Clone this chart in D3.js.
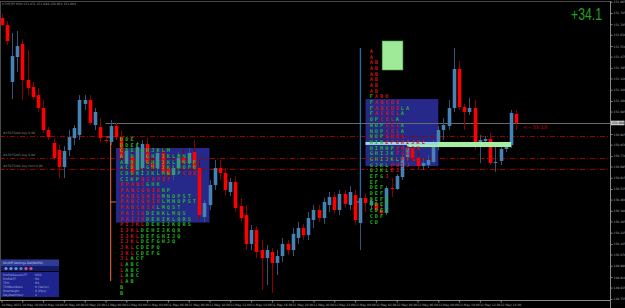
<!DOCTYPE html>
<html>
<head>
<meta charset="utf-8">
<script src="https://cdn.jsdelivr.net/npm/d3@7"></script>
<style>
html, body { margin: 0; padding: 0; background: #000; }
svg { display: block; }
</style>
</head>
<body>
<div id="chart"></div>
<script>
// CHFJPY M30 candles, 10-12 May 2023
var opens = [151.749,151.699,151.295,151.472,151.565,151.309,151.259,151.202,151.110,150.954,
150.862,150.812,150.691,150.812,150.897,150.918,151.139,151.167,150.989,150.975,
150.883,150.869,150.982,150.904,150.713,150.762,150.670,150.684,150.855,150.720,
150.684,150.791,150.677,150.634,150.684,150.755,150.720,150.798,150.684,150.336,
150.421,150.563,150.684,150.649,150.514,150.585,150.414,150.350,150.145,150.244,
150.102,150.045,150.088,150.010,150.059,150.145,150.102,150.187,150.258,150.208,
150.315,150.386,150.329,150.421,150.478,150.386,150.500,150.421,150.492,150.294,
150.471,150.421,150.436,150.386,150.365,150.542,150.535,150.620,150.762,150.826,
150.755,150.698,150.705,150.727,150.847,150.954,150.982,151.110,151.387,151.117,
151.082,151.110,150.862,150.876,150.890,150.720,150.734,150.819,150.847,151.068];
var highs = [151.778,151.728,151.643,151.657,151.600,151.522,151.295,151.252,151.167,150.975,
150.897,150.847,150.840,150.954,150.989,151.202,151.202,151.202,151.110,151.039,
150.904,151.025,151.011,150.954,150.826,150.798,150.869,150.883,150.897,150.755,
150.826,150.826,150.705,150.705,150.798,150.812,150.826,150.883,150.741,150.457,
150.599,150.741,150.741,150.684,150.613,150.627,150.471,150.421,150.279,150.272,
150.173,150.137,150.116,150.102,150.187,150.173,150.258,150.301,150.287,150.372,
150.421,150.421,150.471,150.514,150.514,150.528,150.528,150.556,150.528,150.485,
150.507,150.471,150.457,150.421,150.556,150.613,150.642,150.776,150.883,150.869,
150.798,150.755,150.776,150.883,150.982,151.039,151.167,151.536,151.444,151.139,
151.181,151.167,150.918,150.911,150.933,150.862,150.833,150.862,151.096,151.096];
var lows = [151.692,151.557,151.174,151.366,151.167,151.202,151.167,151.082,150.933,150.883,
150.741,150.613,150.613,150.769,150.847,150.883,151.096,150.989,150.954,150.869,
150.862,150.847,150.883,150.741,150.684,150.613,150.634,150.656,150.698,150.670,
150.656,150.627,150.613,150.599,150.656,150.698,150.698,150.656,150.315,150.301,
150.386,150.528,150.599,150.492,150.485,150.372,150.301,150.102,150.102,150.045,
149.818,149.853,149.797,149.924,150.017,150.066,150.059,150.145,150.173,150.173,
150.258,150.301,150.287,150.372,150.358,150.350,150.400,150.386,150.279,150.102,
150.372,150.386,150.372,150.343,150.350,150.478,150.528,150.599,150.741,150.727,
150.670,150.670,150.684,150.713,150.812,150.883,150.954,151.082,151.096,150.954,
151.060,150.812,150.720,150.862,150.705,150.656,150.705,150.798,150.826,150.954];
var closes = [151.699,151.586,151.479,151.550,151.309,151.252,151.188,151.110,150.954,150.904,
150.755,150.691,150.805,150.904,150.968,151.167,151.167,151.004,151.082,150.897,
150.876,150.982,150.904,150.755,150.805,150.649,150.833,150.855,150.720,150.691,
150.791,150.656,150.634,150.684,150.755,150.720,150.791,150.684,150.350,150.436,
150.563,150.684,150.649,150.528,150.585,150.400,150.329,150.145,150.244,150.088,
150.045,150.102,150.010,150.059,150.145,150.102,150.216,150.258,150.208,150.329,
150.386,150.329,150.443,150.478,150.386,150.500,150.429,150.514,150.315,150.471,
150.436,150.450,150.386,150.365,150.542,150.535,150.627,150.762,150.826,150.755,
150.698,150.720,150.741,150.847,150.954,150.989,151.110,151.387,151.117,151.082,
151.110,150.847,150.883,150.890,150.720,150.727,150.819,150.847,151.075,151.004];

var priceTicks = [151.865,151.785,151.705,151.630,151.550,151.475,151.395,151.320,151.240,151.160,
151.085,150.925,150.850,150.770,150.695,150.615,150.535,150.460,150.380,150.305,
150.225,150.145,150.070,149.990,149.910,149.835,149.755];

var timeLabels = ["10 May 2023","10 May 16:00","10 May 18:00","10 May 20:00","10 May 22:00",
"11 May 00:00","11 May 02:00","11 May 04:00","11 May 06:00","11 May 08:00","11 May 10:00",
"11 May 12:00","11 May 14:00","11 May 16:00","11 May 18:00","11 May 20:00","11 May 22:00",
"12 May 00:00","12 May 02:00","12 May 04:00","12 May 06:00","12 May 08:00","12 May 10:00",
"12 May 12:00","12 May 14:00"];
var barsPerLabel = 4;

// order lines
var orderPrices = [150.909, 150.753, 150.675];
var orderNames = ["#47075284 buy 0.00", "#47075283 buy 0.00", "#47075282 buy limit 0.00"];

// market profiles: lowercase = red letters, uppercase = green letters
var tpoStep = 0.0404;
var profileA = ["DDE","DDEF","CDEFGHJKLM","ACDEFGHIJKLMNO","ACDEFGHIJKLMNOP","ACDEFGHIJKLMOPQ",
"CDGHIJKLMNOPcdef","CIKPbcopef","epabcGHK","pabcghikNP","pabcghikMNOPST","pabcghikLMNOPST",
"pabchikLMQST","paijkDEHKLMQS","paijkDEHIKLQRS","pijklDEHIJKQRS","ijklDEHIJKQR","ijklDEFGHIJQ",
"ijklDEFGHJQ","jklCDEPQ","jklCDEFG","jlACF","lABC","lABC","lABC","lAB","B","B"];
var profileATop = 150.890, profileACol = 23;
var profileABox = {from: 22, to: 40, high: 150.826, low: 150.297};
var profileALine = {at: 21, high: 150.904, low: 149.882, mark: 150.443};

var profileB = ["a","a","ab","ab","ab","ab","ab","ab","Fabd","Fabcde","FabcdeLA","FacdelA",
"OPcelA","NOPcelA","NOPcelA","NOPghel","HINefghijkl","HIMNPfhijk","GHIJKfghj","GHIJKLpfgj",
"GJKLphij","GJKLej","EFGj","EF","DEF","DEF","DEFG","CDEF","CDEF","CDF","CD"];
var profileBTop = 151.515, profileBCol = 71;
var profileBBox = {from: 70, to: 84, high: 151.174, low: 150.698};
var profileBLine = {at: 69, high: 151.536, low: 150.294, mark: 150.443};
var pocBar = {from: 78, to: 98, high: 150.869, low: 150.833};
var pocLine = {from: 70, to: 84, high: 150.869, low: 150.848};
var greenSquare = {from: 73.2, to: 77.2, high: 151.586, low: 151.380};

var settingsRows = [["ProfileSessionTF", ": M30"], ["ProfileTF", ": M1"], ["TPO", ": M1"],
["TPONumbers", ": 0 (Var1o)"], ["RowHeight", ": 0 (Pips)"], ["DayStartHour", ": 2"]];
var settingsDots = ["#6c9ad6","#6c9ad6","#6c9ad6","#5b86cc","#e0528a","#e0528a"];

var width = 625, height = 308;
var plot = {left: 0, right: 610, top: 1, bottom: 300};

var svg = d3.select("#chart").append("svg")
  .attr("width", width).attr("height", height)
  .style("background", "#000");

var x = d3.scaleLinear().domain([0, opens.length - 1]).range([1.5, 516.3]);
var y = d3.scaleLinear().domain([149.747, 151.877]).range([plot.bottom, 0]);
var bodyW = 3.6;

svg.append("defs").append("clipPath").attr("id", "plotclip")
  .append("rect").attr("x", plot.left).attr("y", plot.top)
  .attr("width", plot.right - plot.left).attr("height", plot.bottom - plot.top);

var g = svg.append("g").attr("clip-path", "url(#plotclip)");

// value area boxes
[profileABox, profileBBox].forEach(function(b) {
  g.append("rect")
    .attr("x", x(b.from)).attr("y", y(b.high))
    .attr("width", x(b.to) - x(b.from)).attr("height", y(b.low) - y(b.high))
    .attr("fill", "#26288a");
});

// order lines
orderPrices.forEach(function(p, i) {
  g.append("line")
    .attr("x1", plot.left).attr("x2", plot.right)
    .attr("y1", Math.round(y(p)) + 0.5).attr("y2", Math.round(y(p)) + 0.5)
    .attr("stroke", "#9a0000").attr("stroke-dasharray", "5,2,1,2");
  g.append("text")
    .attr("x", 3).attr("y", y(p) - 2)
    .attr("font-family", "DejaVu Sans").attr("font-size", 3)
    .attr("fill", "#8a8a8a").text(orderNames[i]);
});

// bid line
var last = closes[closes.length - 1];
g.append("line")
  .attr("x1", x(20)).attr("x2", plot.right)
  .attr("y1", Math.round(y(last)) + 0.5).attr("y2", Math.round(y(last)) + 0.5)
  .attr("stroke", "#6a6a6a");

// profile start lines
function profileLine(l, color) {
  g.append("line")
    .attr("x1", x(l.at)).attr("x2", x(l.at))
    .attr("y1", y(l.high)).attr("y2", y(l.low))
    .attr("stroke", color).attr("stroke-width", 1);
}
profileLine(profileALine, "#e8743c");
g.append("line").attr("x1", x(profileALine.at - 1)).attr("x2", x(profileALine.at))
  .attr("y1", y(profileALine.high)).attr("y2", y(profileALine.high)).attr("stroke", "#e8743c");
g.append("line").attr("x1", x(profileALine.at)).attr("x2", x(profileALine.at + 1))
  .attr("y1", y(profileALine.mark)).attr("y2", y(profileALine.mark)).attr("stroke", "#e8743c");
profileLine(profileBLine, "#1f8ee0");
g.append("line").attr("x1", x(profileBLine.at - 1)).attr("x2", x(profileBLine.at))
  .attr("y1", y(profileBLine.mark)).attr("y2", y(profileBLine.mark)).attr("stroke", "#2ab0f0");

// candles
var idx = d3.range(opens.length);
var candle = g.selectAll(".candle").data(idx).enter().append("g").attr("class", "candle");
candle.append("line")
  .attr("x1", function(d) { return Math.round(x(d)) + 0.5; })
  .attr("x2", function(d) { return Math.round(x(d)) + 0.5; })
  .attr("y1", function(d) { return y(highs[d]); })
  .attr("y2", function(d) { return y(lows[d]); })
  .attr("stroke", function(d) { return closes[d] >= opens[d] ? "#30567c" : "#8a0000"; });
candle.append("rect")
  .attr("x", function(d) { return Math.round(x(d)) + 0.5 - bodyW / 2; })
  .attr("y", function(d) { return y(Math.max(opens[d], closes[d])); })
  .attr("width", bodyW)
  .attr("height", function(d) { return Math.max(1, Math.abs(y(opens[d]) - y(closes[d]))); })
  .attr("fill", function(d) { return closes[d] >= opens[d] ? "#4682b4" : "#ff0000"; });

// POC bar and line
g.append("rect")
  .attr("x", x(pocBar.from)).attr("y", y(pocBar.high))
  .attr("width", x(pocBar.to) - x(pocBar.from)).attr("height", y(pocBar.low) - y(pocBar.high))
  .attr("fill", "#a6efa2");
g.append("rect")
  .attr("x", x(pocLine.from)).attr("y", y(pocLine.high))
  .attr("width", x(pocLine.to) - x(pocLine.from)).attr("height", y(pocLine.low) - y(pocLine.high))
  .attr("fill", "#9fd8e2");

g.append("rect")
  .attr("x", x(greenSquare.from)).attr("y", y(greenSquare.high))
  .attr("width", x(greenSquare.to) - x(greenSquare.from))
  .attr("height", y(greenSquare.low) - y(greenSquare.high))
  .attr("fill", "#9eea98").attr("stroke", "#4aa04a").attr("stroke-width", 0.6);

// TPO letters
function drawProfile(rows, top, col0) {
  var pg = g.append("g")
    .attr("font-family", "DejaVu Sans Mono").attr("font-weight", "bold")
    .attr("font-size", 5.2).attr("text-anchor", "middle");
  rows.forEach(function(row, i) {
    var py = y(top - i * tpoStep);
    row.split("").forEach(function(ch, j) {
      var red = ch !== ch.toUpperCase();
      pg.append("text")
        .attr("x", x(col0 + j) + 0.5).attr("y", py)
        .attr("dy", "0.36em")
        .attr("fill", red ? "#c81414" : "#22b622")
        .text(ch.toUpperCase());
    });
  });
}
drawProfile(profileA, profileATop, profileACol);
drawProfile(profileB, profileBTop, profileBCol);

// countdown
g.append("text")
  .attr("x", x(100.3)).attr("y", y(last) + 4)
  .attr("dy", "0.35em")
  .attr("font-family", "DejaVu Sans").attr("font-size", 5)
  .attr("fill", "#c00000").text("<-- 33:19");

// frame
svg.append("line").attr("x1", 0).attr("x2", plot.right).attr("y1", plot.top + 0.5).attr("y2", plot.top + 0.5)
  .attr("stroke", "#4a4a4a");
svg.append("line").attr("x1", 0.5).attr("x2", 0.5).attr("y1", plot.top).attr("y2", plot.bottom)
  .attr("stroke", "#4a4a4a");

// price axis
var yAxis = d3.axisRight(y).tickValues(priceTicks).tickFormat(d3.format(".3f"))
  .tickSize(2).tickPadding(1);
var ya = svg.append("g").attr("transform", "translate(" + (plot.right + 0.5) + ",0)").call(yAxis);
ya.select(".domain").attr("stroke", "#8a8a8a").attr("d", "M0," + plot.top + "V" + (plot.bottom + 8));
ya.selectAll(".tick line").attr("stroke", "#8a8a8a");
ya.selectAll("text").attr("fill", "#a8a8a8").attr("font-family", "DejaVu Sans").attr("font-size", 3);

ya.append("rect").attr("x", 0.5).attr("y", y(last) - 2.3).attr("width", 13.5).attr("height", 4.6)
  .attr("fill", "#c8c8c8");
ya.append("text").attr("x", 1.5).attr("y", y(last)).attr("dy", "0.35em")
  .attr("font-family", "DejaVu Sans").attr("font-size", 3).attr("fill", "#000")
  .text(d3.format(".3f")(last));

// time axis
var timeIdx = timeLabels.map(function(d, i) { return i * barsPerLabel; });
var xAxis = d3.axisBottom(x).tickValues(timeIdx)
  .tickFormat(function(d, i) { return timeLabels[i]; }).tickSize(2).tickPadding(1);
var xa = svg.append("g").attr("transform", "translate(0," + (plot.bottom + 0.5) + ")").call(xAxis);
xa.select(".domain").attr("stroke", "#8a8a8a").attr("d", "M0,0H" + (plot.right + 0.5));
xa.selectAll(".tick line").attr("stroke", "#8a8a8a");
xa.selectAll("text").attr("fill", "#a8a8a8").attr("font-family", "DejaVu Sans")
  .attr("font-size", 3).attr("text-anchor", "start").attr("x", -0.5);

// title
svg.append("text").attr("x", 2).attr("y", 4.5)
  .attr("font-family", "DejaVu Sans").attr("font-size", 3).attr("fill", "#9a9a9a")
  .text("\u25BE CHFJPY,M30  151.071 151.094 150.954 151.004");

// profit label
svg.append("text").attr("x", 571).attr("y", 20)
  .attr("font-family", "Liberation Sans").attr("font-size", 16)
  .attr("textLength", 31).attr("lengthAdjust", "spacingAndGlyphs")
  .attr("fill", "#21a121").text("+34.1");

// settings panel
var panel = svg.append("g").attr("font-family", "DejaVu Sans").attr("font-size", 3);
panel.append("rect").attr("x", 1).attr("y", 259.5).attr("width", 58).attr("height", 6.5).attr("fill", "#2e3c96");
panel.append("text").attr("x", 3).attr("y", 263.8).attr("fill", "#c6cdf2").text("On/Off Settings   Del(NOPD)");
panel.append("rect").attr("x", 1).attr("y", 266).attr("width", 58).attr("height", 5).attr("fill", "#141a66");
panel.selectAll(".dot").data(settingsDots).enter().append("circle")
  .attr("cx", function(d, i) { return 6 + i * 5; }).attr("cy", 268.5)
  .attr("r", 1.6).attr("fill", function(d) { return d; });
panel.append("rect").attr("x", 1).attr("y", 272).attr("width", 58).attr("height", 25).attr("fill", "#1d248e");
settingsRows.forEach(function(r, i) {
  panel.append("text").attr("x", 3).attr("y", 276 + i * 3.9).attr("fill", "#aab0dd").text(r[0]);
  panel.append("text").attr("x", 33).attr("y", 276 + i * 3.9).attr("fill", "#aab0dd").text(r[1]);
});
</script>
</body>
</html>
